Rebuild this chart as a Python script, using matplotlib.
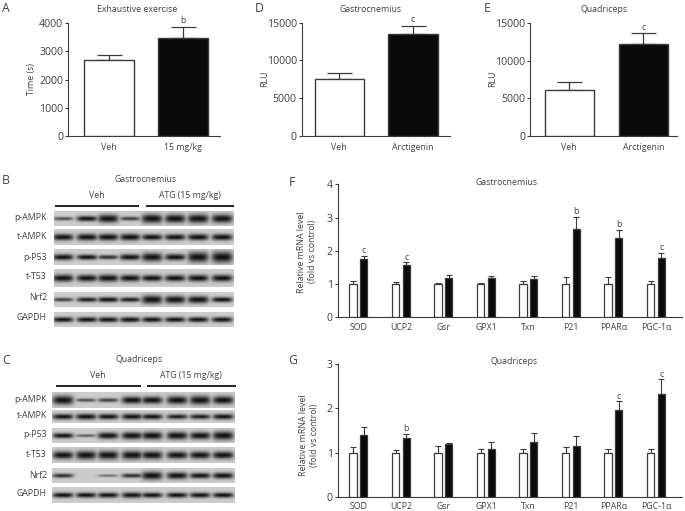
import numpy as np
import matplotlib
matplotlib.use('Agg')
import matplotlib.pyplot as plt

plt.rcParams['font.family'] = ['Open Sans', 'DejaVu Sans']

W, H = 685, 511
DARK = '#3a3a3a'
TXT = '#404040'

# panel A, D, E
groups_a = ['Veh', '15 mg/kg']
vals_a = [2680, 3490]
errs_a = [180, 390]
groups_d = ['Veh', 'Arctigenin']
vals_d = [7550, 13550]
errs_d = [750, 1050]
vals_e = [6100, 12300]
errs_e = [1100, 1350]

# panel F, G
genes = ['SOD', 'UCP2', 'Gsr', 'GPX1', 'Txn', 'P21', 'PPARα', 'PGC-1α']
veh_f = [1, 1, 1, 1, 1, 1, 1, 1]
veh_err_f = [0.08, 0.05, 0.03, 0.03, 0.10, 0.20, 0.20, 0.08]
atg_f = [1.75, 1.58, 1.17, 1.17, 1.15, 2.65, 2.37, 1.78]
atg_err_f = [0.10, 0.07, 0.11, 0.07, 0.09, 0.38, 0.25, 0.15]
sig_f = ['c', 'c', '', '', '', 'b', 'b', 'c']
veh_g = [1, 1, 1, 1, 1, 1, 1, 1]
veh_err_g = [0.13, 0.06, 0.14, 0.07, 0.07, 0.13, 0.07, 0.08]
atg_g = [1.39, 1.34, 1.20, 1.09, 1.25, 1.14, 1.97, 2.33]
atg_err_g = [0.20, 0.08, 0.01, 0.16, 0.20, 0.23, 0.19, 0.33]
sig_g = ['', 'b', '', '', '', '', 'c', 'c']

# western blots: band strength per lane
blot_labels = ['p-AMPK', 't-AMPK', 'p-P53', 't-T53', 'Nrf2', 'GAPDH']
blot_b = [
    [.40, .60, .90, .45, 1.0, .95, 1.0, .95],
    [.75, .80, .80, .80, .70, .70, .75, .75],
    [.70, .60, .50, .70, 1.0, .75, 1.2, 1.3],
    [.85, .80, .85, .80, .75, .75, .80, .80],
    [.45, .55, .60, .55, 1.0, .90, .85, .60],
    [.60, .60, .60, .60, .60, .60, .60, .60],
]
blot_c = [
    [1.0, .40, .45, .80, .80, .90, 1.0, .90],
    [.60, .65, .60, .65, .60, .55, .55, .60],
    [.60, .35, .75, .85, .90, .90, .85, 1.0],
    [.90, 1.0, 1.0, 1.0, .95, .85, .85, .85],
    [.50, .00, .30, .50, .95, .80, .65, .70],
    [.60, .60, .60, .65, .60, .60, .60, .60],
]
lanes_b = [63, 87, 108, 130, 152, 175, 198, 222]
lanes_c = [63, 86, 108, 132, 152, 177, 200, 223]
rows_b = [(211.7, 226), (229, 245), (249, 265), (269, 287), (292, 307), (312, 327)]
rows_c = [(392.7, 408), (410.7, 423), (428, 443), (447, 463), (468, 483), (487, 503)]
label_y_b = [217.7, 236.3, 257, 276.7, 297, 317]
label_y_c = [400, 416, 434.3, 454.7, 475, 493.7]


def make_axes(left, right, top, bottom):
    ax = fig.add_axes([left / W, 1 - bottom / H, (right - left) / W, (bottom - top) / H])
    ax.spines['top'].set_visible(False)
    ax.spines['right'].set_visible(False)
    ax.spines['left'].set_color(DARK)
    ax.spines['bottom'].set_color(DARK)
    ax.spines['left'].set_linewidth(0.8)
    ax.spines['bottom'].set_linewidth(0.8)
    ax.tick_params(axis='y', length=2.5, width=0.8, color=DARK, labelcolor=TXT, labelsize=7.6, pad=1)
    ax.tick_params(axis='x', length=0, labelcolor=TXT, labelsize=6.3, pad=5)
    return ax


def two_bars(ax, names, vals, errs, ymax, yticks, xlim, sig):
    x = np.arange(2)
    ax.bar(x, vals, 0.665, color=['white', '#0a0a0a'], edgecolor=DARK, linewidth=1.0, zorder=3)
    ax.errorbar(x, vals, yerr=[[0, 0], errs], fmt='none', ecolor=DARK, elinewidth=0.9,
                capsize=9, capthick=0.9, zorder=2)
    ax.set_xlim(*xlim)
    ax.set_ylim(0, ymax)
    ax.set_yticks(yticks)
    ax.set_xticks(x, names)
    ax.annotate(sig, (1, vals[1] + errs[1]), xytext=(0, 1), textcoords='offset points',
                ha='center', va='bottom', fontsize=6.3, color=TXT)


def gene_bars(ax, veh, veh_err, atg, atg_err, sig, ymax, yticks):
    x = np.arange(len(genes))
    off = 0.127
    ax.bar(x - off, veh, 0.165, color='white', edgecolor=DARK, linewidth=0.9, zorder=3)
    ax.bar(x + off, atg, 0.165, color='#0a0a0a', edgecolor=DARK, linewidth=0.9, zorder=3)
    ax.errorbar(x - off, veh, yerr=[np.zeros(8), veh_err], fmt='none', ecolor=DARK,
                elinewidth=0.8, capsize=1.9, capthick=0.8, zorder=2)
    ax.errorbar(x + off, atg, yerr=[np.zeros(8), atg_err], fmt='none', ecolor=DARK,
                elinewidth=0.8, capsize=1.9, capthick=0.8, zorder=2)
    for i in range(len(genes)):
        if sig[i]:
            ax.annotate(sig[i], (x[i] + off, atg[i] + atg_err[i]), xytext=(0, 0.5),
                        textcoords='offset points', ha='center', va='bottom', fontsize=6.3, color=TXT)
    ax.set_xlim(-0.487, 7.607)
    ax.set_ylim(0, ymax)
    ax.set_yticks(yticks)
    ax.set_xticks(x, genes)
    ax.tick_params(axis='x', pad=4)


def draw_blot(pix, strengths, lanes, rows, x0, x1):
    xs = np.arange(x0, x1, 1 / 3)
    for r, (y0, y1) in enumerate(rows):
        ys = np.arange(y0, y1, 1 / 3)
        xx, yy = np.meshgrid(xs, ys)
        cy = (y0 + y1) / 2
        dark = np.zeros_like(xx)
        for lane, s in zip(lanes, strengths[r]):
            sy = max(s, 0.05) * 4.2
            d = min(1, s * 1.7) * np.exp(-((xx - lane) / 10.5) ** 4) * np.exp(-((yy - cy) / sy) ** 2)
            dark = np.maximum(dark, d)
        img = 0.80 * (1 - dark) + 0.07 * dark
        pix.imshow(img, extent=(x0, x1, y1, y0), cmap='gray', vmin=0, vmax=1,
                   aspect='auto', interpolation='bilinear')


fig = plt.figure(figsize=(W / 100, H / 100), dpi=100, facecolor='white')

ax_a = make_axes(68, 220, 23.3, 136)
two_bars(ax_a, groups_a, vals_a, errs_a, 4000, [0, 1000, 2000, 3000, 4000], (-0.554, 1.5), 'b')
ax_d = make_axes(301.7, 450, 22.7, 136)
two_bars(ax_d, groups_d, vals_d, errs_d, 15000, [0, 5000, 10000, 15000], (-0.507, 1.5), 'c')
ax_e = make_axes(530, 676.7, 23.3, 136)
two_bars(ax_e, groups_d, vals_e, errs_e, 15000, [0, 5000, 10000, 15000], (-0.53, 1.45), 'c')
ax_f = make_axes(337.7, 681.7, 184.3, 317.3)
gene_bars(ax_f, veh_f, veh_err_f, atg_f, atg_err_f, sig_f, 4, [0, 1, 2, 3, 4])
ax_g = make_axes(337.7, 681.7, 364.3, 496.7)
gene_bars(ax_g, veh_g, veh_err_g, atg_g, atg_err_g, sig_g, 3, [0, 1, 2, 3])

# overlay in pixel coordinates for blots and free text
pix = fig.add_axes([0, 0, 1, 1], facecolor='none')
pix.axis('off')
draw_blot(pix, blot_b, lanes_b, rows_b, 54, 234)
draw_blot(pix, blot_c, lanes_c, rows_c, 52, 235)
pix.set_xlim(0, W)
pix.set_ylim(H, 0)

for x0, x1, y in [(55, 139.3, 206), (145.7, 234.3, 206), (55.7, 141, 386.3), (147, 236, 386.3)]:
    pix.plot([x0, x1], [y, y], color='#111111', lw=1.3, solid_capstyle='butt')


def put(x, y, s, size=6.3, **kw):
    kw.setdefault('ha', 'center')
    pix.text(x, y, s, fontsize=size, color=TXT, va='center', **kw)


for s, x, y in [('A', 6, 8), ('B', 6, 181), ('C', 6, 360.7), ('D', 259, 8), ('E', 486.7, 8),
                ('F', 291.7, 182), ('G', 292.7, 361)]:
    put(x, y, s, size=8.8)

put(137, 9, 'Exhaustive exercise')
put(371, 9, 'Gastrocnemius')
put(604, 9.3, 'Quadriceps')
put(507, 182.7, 'Gastrocnemius')
put(514, 361.7, 'Quadriceps')
put(145.7, 180, 'Gastrocnemius')
put(139.3, 360, 'Quadriceps')
put(97, 196, 'Veh')
put(190, 196, 'ATG (15 mg/kg)')
put(98, 376, 'Veh')
put(190.7, 376, 'ATG (15 mg/kg)')

put(32, 79, 'Time (s)', rotation=90)
put(265, 79, 'RLU', rotation=90)
put(493, 79, 'RLU', rotation=90)
put(307, 251.7, 'Relative mRNA level\n(fold vs control)', rotation=90, linespacing=1.15)
put(309, 435, 'Relative mRNA level\n(fold vs control)', rotation=90, linespacing=1.15)

for name, y in zip(blot_labels, label_y_b):
    put(47, y, name, ha='right')
for name, y in zip(blot_labels, label_y_c):
    put(47, y, name, ha='right')

fig.savefig('out.png', dpi=100)
